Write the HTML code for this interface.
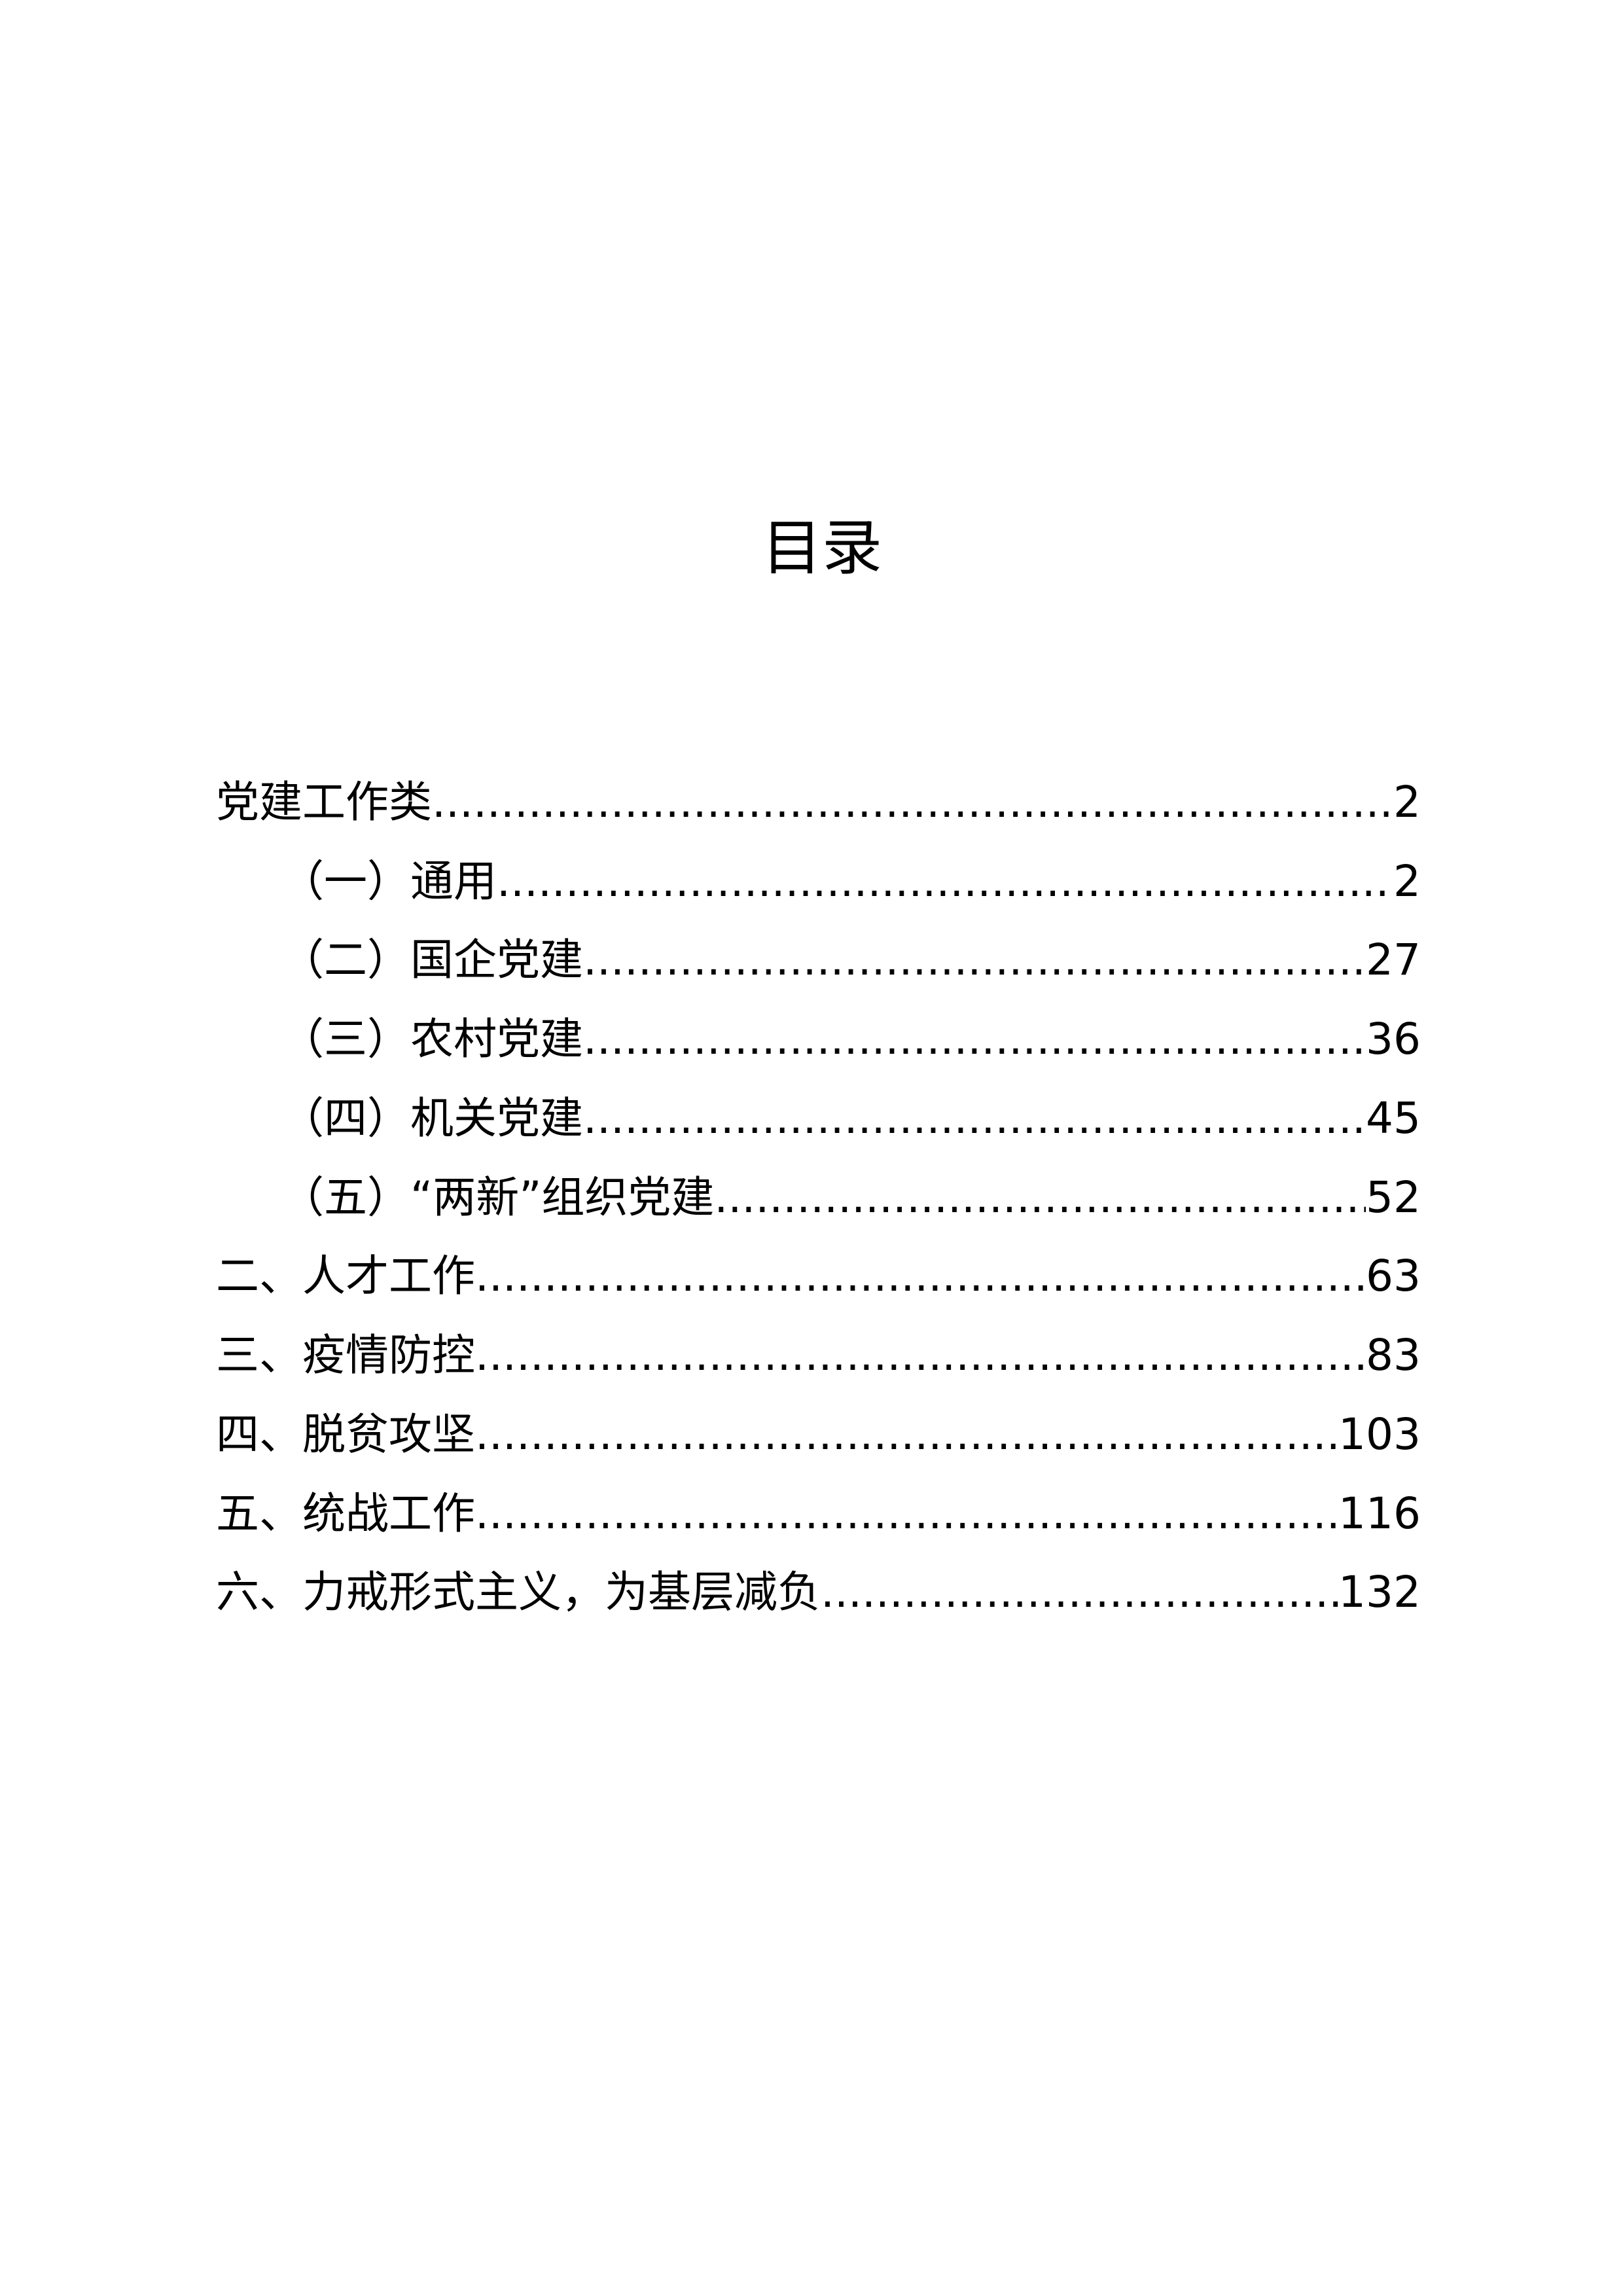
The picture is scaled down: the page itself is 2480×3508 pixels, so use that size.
<!DOCTYPE html>
<html><head><meta charset="utf-8">
<style>
html,body{margin:0;padding:0;background:#fff;}
body{width:2480px;height:3508px;position:relative;overflow:hidden;font-family:"DejaVu Sans","Noto Sans CJK SC",sans-serif;color:#000;}
.title{position:absolute;left:16px;width:2480px;top:778px;text-align:center;font-size:92px;line-height:120px;}
.row{position:absolute;left:330px;width:1841px;height:90px;line-height:90px;font-size:66px;display:flex;white-space:nowrap;}
.row.in{left:429px;width:1742px;}
.lead{flex:1;overflow:hidden;white-space:nowrap;}
.lead::after{content:"....................................................................................................................................................................................................................................";}
.num{flex:none;}
</style></head><body>
<div class="title">目录</div>
<div class="row" style="top:1181px"><span>党建工作类</span><span class="lead"></span><span class="num">2</span></div>
<div class="row in" style="top:1302px"><span>（一）通用</span><span class="lead"></span><span class="num">2</span></div>
<div class="row in" style="top:1422px"><span>（二）国企党建</span><span class="lead"></span><span class="num">27</span></div>
<div class="row in" style="top:1543px"><span>（三）农村党建</span><span class="lead"></span><span class="num">36</span></div>
<div class="row in" style="top:1664px"><span>（四）机关党建</span><span class="lead"></span><span class="num">45</span></div>
<div class="row in" style="top:1785px"><span>（五）“两新”组织党建</span><span class="lead"></span><span class="num">52</span></div>
<div class="row" style="top:1905px"><span>二、人才工作</span><span class="lead"></span><span class="num">63</span></div>
<div class="row" style="top:2026px"><span>三、疫情防控</span><span class="lead"></span><span class="num">83</span></div>
<div class="row" style="top:2147px"><span>四、脱贫攻坚</span><span class="lead"></span><span class="num">103</span></div>
<div class="row" style="top:2268px"><span>五、统战工作</span><span class="lead"></span><span class="num">116</span></div>
<div class="row" style="top:2388px"><span>六、力戒形式主义，为基层减负</span><span class="lead"></span><span class="num">132</span></div>
</body></html>
